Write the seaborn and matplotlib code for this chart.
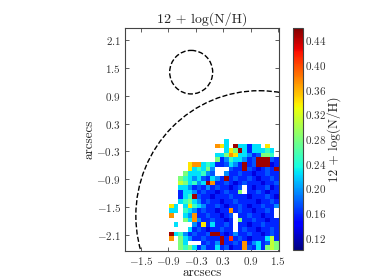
import numpy as np
import matplotlib
matplotlib.use("Agg")
import matplotlib.pyplot as plt
from matplotlib.patches import Ellipse
import seaborn as sns

sns.set_style("ticks")
plt.rcParams.update({
    "font.family": "serif",
    "font.serif": ["cmr10", "DejaVu Serif"],
    "mathtext.fontset": "cm",
    "axes.unicode_minus": False,
})

# colour codes -> 12+log(N/H) value
levels = {".": np.nan, "N": 0.13, "B": 0.158, "b": 0.175, "l": 0.195, "c": 0.225,
          "a": 0.25, "g": 0.28, "y": 0.31, "Y": 0.34, "o": 0.37, "r": 0.41, "R": 0.45}

# 24 x 24 spaxels (0.1"), top row first, left column at x=-0.88"
rows = [
    "............c...........",
    "..........oYc.RccBcc.Y..",
    "............cYgRcBcccac.",
    "..........ccgoYcclBbgga.",
    "..........gBlacclBbRRRbB",
    "....YoocacBBbclBRBbRRRNB",
    "....Ycacgl...bBBRbBNBbBR",
    "...gcccalb..lBBbBBNBBbBB",
    "..gaclcbBclBRBbBBbBNBBbB",
    "..ygcalcRoBBbBNBbBBBNBBb",
    "..cclBbBlBbBBNBb.BNBBbNB",
    "..BcclBbBBNBbBBg.BBbBNBB",
    "..BcaRbBBNBBBbBBBNBBBbBN",
    "..cagclBbBBNBBbBBBBNBBbB",
    "Yc.cYaclBBbBNBBbBNBBbBBl",
    "cc.aclBbBBNBBoBbBBNBBbB.",
    "o..cloBBbBBNBb.BBbBBNBB.",
    "...gcolBBbBBNB.gBBbBBNBB",
    ".c...lBYBcBBbB.BBNBBbBBB",
    "....cBbBNBBbBB.BbBBNBBbB",
    "RcalBbBBbRRBNBlBBbBBNBbB",
    "o.gclBBbBBBRBrBbBNBBBcyB",
    "..gc...BbBlRBBbBoBlcBbyg",
    "..gagcBlBBcBbNBBobBcBgyg",
]
nh = np.array([[levels[ch] for ch in r] for r in rows])

x_ticks = [-1.5, -0.9, -0.3, 0.3, 0.9, 1.5]
y_ticks = [2.1, 1.5, 0.9, 0.3, -0.3, -0.9, -1.5, -2.1]
cbar_ticks = [0.12, 0.16, 0.20, 0.24, 0.28, 0.32, 0.36, 0.40, 0.44]

cell = 0.1
x0 = -0.88   # left edge of column 0
ytop = -0.03  # top edge of row 0


def u(x):
    return (x - x0) / cell


def v(y):
    return (ytop - y) / cell


fig = plt.figure(figsize=(3.74, 2.8), dpi=100)
ax = fig.add_axes([125 / 374, 1 - 251 / 280, 154 / 374, 223.3 / 280])
cax = fig.add_axes([292.7 / 374, 1 - 250 / 280, 10 / 374, 222 / 280])

sns.heatmap(nh, ax=ax, cbar_ax=cax, cmap="jet", vmin=0.10, vmax=0.46,
            xticklabels=False, yticklabels=False)

ax.set_xlim(u(-1.847), u(1.52))
ax.set_ylim(v(-2.45), v(2.37))

# apertures
ax.add_patch(Ellipse((u(-0.40), v(1.41)), 2 * 0.47 / cell, 2 * 0.47 / cell,
                     fill=False, ls="--", lw=1.0, ec="black"))
ax.add_patch(Ellipse((u(1.09), v(-1.69)), 2 * 2.70 / cell, 2 * 2.70 / cell,
                     fill=False, ls="--", lw=1.0, ec="black"))

for s in ax.spines.values():
    s.set_visible(True)
    s.set_linewidth(0.8)
    s.set_color("#444444")

ax.set_xticks([u(t) for t in x_ticks])
ax.set_xticklabels([f"${t:.1f}$" for t in x_ticks])
ax.set_yticks([v(t) for t in y_ticks])
ax.set_yticklabels([f"${t:.1f}$" for t in y_ticks], rotation=0)
ax.tick_params(direction="in", top=True, right=True, length=3, width=0.6,
               labelsize=8, pad=3, colors="#444444", labelcolor="#333333")

ax.set_title("12 + log(N/H)", fontsize=10, pad=4)
ax.set_xlabel("arcsecs", fontsize=9.5, labelpad=0)
ax.set_ylabel("arcsecs", fontsize=9.5, labelpad=1)

cb = ax.collections[0].colorbar
cb.set_ticks(cbar_ticks)
cb.set_ticklabels([f"${t:.2f}$" for t in cbar_ticks])
cb.outline.set_visible(True)
cb.outline.set_linewidth(0.8)
cb.outline.set_edgecolor("#444444")
cax.tick_params(direction="in", length=3, width=0.6, labelsize=8, pad=2,
                colors="#444444", labelcolor="#333333")
cb.set_label("12 + log(N/H)", fontsize=9.5, labelpad=0)

fig.savefig("out.png", dpi=100)
